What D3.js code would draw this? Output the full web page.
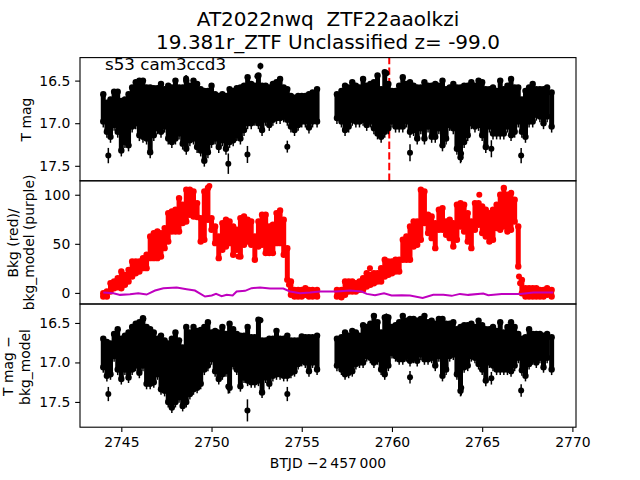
<!DOCTYPE html>
<html>
<head>
<meta charset="utf-8">
<script src="https://cdn.jsdelivr.net/npm/d3@7"></script>
<style>
  html, body { margin: 0; padding: 0; background: #fff; }
  svg { display: block; }
  text { font-family: "DejaVu Sans", sans-serif; fill: #000; }
</style>
</head>
<body>
<script>
// the light curve is far too dense to read point by point, so each time bin
// keeps the brightest and faintest value
var timeBins = [
  2744.0,2744.2,2744.4,2744.6,2744.8,2745.0,2745.2,2745.4,2745.6,2745.8,
  2746.0,2746.2,2746.4,2746.6,2746.8,2747.0,2747.2,2747.4,2747.6,2747.8,
  2748.0,2748.2,2748.4,2748.6,2748.8,2749.0,2749.2,2749.4,2749.6,2749.8,
  2750.0,2750.2,2750.4,2750.6,2750.8,2751.0,2751.2,2751.4,2751.6,2751.8,
  2752.0,2752.2,2752.4,2752.6,2752.8,2753.0,2753.2,2753.4,2753.6,2753.8,
  2754.0,2754.2,2754.4,2754.6,2754.8,2755.0,2755.2,2755.4,2755.6,2755.85,
  2756.95,2757.2,2757.4,2757.6,2757.8,2758.0,2758.2,2758.4,2758.6,2758.8,
  2759.0,2759.2,2759.4,2759.6,2759.8,2760.0,2760.2,2760.4,2760.6,2760.8,
  2761.0,2761.2,2761.4,2761.6,2761.8,2762.0,2762.2,2762.4,2762.6,2762.8,
  2763.0,2763.2,2763.4,2763.6,2763.8,2764.0,2764.2,2764.4,2764.6,2764.8,
  2765.0,2765.2,2765.4,2765.6,2765.8,2766.0,2766.2,2766.4,2766.6,2766.8,
  2767.0,2767.2,2767.4,2767.6,2767.8,2768.0,2768.2,2768.4,2768.6,2768.85
];

var tmagBright = [
  16.66,16.76,16.72,16.63,16.63,16.74,16.72,16.66,16.58,16.52,
  16.50,16.50,16.58,16.58,16.59,16.59,16.54,16.60,16.56,16.58,
  16.50,16.58,16.58,16.50,16.56,16.50,16.54,16.60,16.62,16.62,
  16.56,16.66,16.68,16.66,16.68,16.60,16.62,16.59,16.58,16.56,
  16.46,16.54,16.56,16.44,16.56,16.56,16.58,16.54,16.52,16.48,
  16.58,16.60,16.68,16.70,16.68,16.68,16.68,16.66,16.64,16.60,
  16.66,16.62,16.56,16.58,16.52,16.56,16.58,16.48,16.56,16.54,
  16.52,16.44,16.60,16.40,16.54,16.62,16.62,16.56,16.46,16.54,
  16.52,16.56,16.58,16.58,16.52,16.56,16.56,16.54,16.56,16.50,
  16.60,16.58,16.54,16.58,16.58,16.56,16.56,16.52,16.56,16.50,
  16.52,16.60,16.60,16.58,16.62,16.50,16.60,16.56,16.48,16.58,
  16.58,16.72,16.62,16.58,16.54,16.60,16.60,16.60,16.58,16.64
];
var tmagFaint = [
  16.98,17.10,17.16,17.02,17.10,17.32,17.22,17.26,17.04,17.00,
  17.14,17.16,17.18,17.34,17.14,17.06,17.10,17.04,17.18,17.22,
  17.18,17.12,17.24,17.30,17.20,17.18,17.28,17.32,17.44,17.34,
  17.22,17.18,17.28,17.20,17.30,17.22,17.20,17.14,17.18,17.08,
  17.00,17.00,16.96,17.00,17.08,16.96,17.02,16.96,16.94,16.94,
  16.92,16.96,17.04,17.08,17.02,16.98,16.98,17.05,16.98,16.98,
  16.94,16.98,17.08,17.04,16.96,16.98,16.98,16.96,17.02,16.98,
  17.06,17.12,17.16,17.10,17.06,16.98,17.04,17.04,17.04,16.98,
  17.10,17.08,17.18,17.06,17.18,17.04,17.16,17.16,17.06,17.26,
  17.18,17.02,17.06,17.30,17.40,17.22,17.14,17.00,17.04,17.02,
  17.14,17.28,17.04,17.12,17.12,17.12,17.12,17.04,17.14,17.10,
  16.98,17.10,17.16,16.98,16.98,16.90,16.92,17.00,16.92,17.04
];

var bkgHigh = [
  -0.3,1.4,9.9,11.6,15,21.8,18.4,23.5,32,32,
  32,35.4,38.8,57.5,60.9,62.6,60.9,66,81.3,83,
  84.7,96.6,89.8,105.1,105.1,103.4,91.5,76.2,103.4,106.8,
  76.2,67.7,57.5,71.1,74.5,72.8,67.7,64.3,76.2,77.9,
  74.5,72.8,57.5,72.8,79.6,79.6,67.7,69.4,81.3,84,
  74.5,45.6,11.6,3.1,3.1,3.1,4.8,3.1,3.1,3.1,
  3.1,3.1,11.6,11.6,11.6,9.9,11.6,15,20.1,18.4,
  20.1,20.1,25.2,33.7,32,32,33.7,33.7,54.1,57.5,
  67.7,72.8,72.8,105.1,103.4,79.6,77.9,71.1,84.7,86.4,
  72.8,74.5,71.1,89.8,91.5,89.8,81.3,72.8,91.5,91.5,
  88.1,84.7,81.3,84.7,89.8,100,106.8,100,101.7,94.9,
  67.7,13.3,4.8,4.8,4.8,4.8,3.1,3.1,4.8,3.1
];
var bkgLow = [
  -3.7,-3.7,1.4,4.8,5.8,4.8,8.2,11.6,16.7,20.1,
  21.8,25.2,25.2,35.4,35.4,35.4,37.1,45.6,52.4,62.6,
  62.6,62.6,71.1,72.8,79.6,77.9,77.2,52.4,54.1,74.5,
  64.3,50.7,35.4,43.9,47.3,50.7,38.8,43.9,37.1,49,
  52.4,49,33.7,47.3,49,40.5,40.5,40.5,50.7,50.7,
  38.8,13.3,-2,-3.7,-3.7,-3.7,-2,-3.7,-3.7,-3.7,
  -3.7,-4.4,-2,1.4,1.4,1.4,3.1,3.1,6.5,8.2,
  9.9,11.6,11.6,16.7,18.4,20.1,21.8,21.8,33.7,33.7,
  33.7,47.3,49,54.1,71.1,60.9,55.8,45.6,64.3,64.3,
  59.2,55.8,47.3,54.1,67.7,62.6,52.4,45.6,64.3,69.4,
  60.9,57.5,52.4,54.1,66,64.3,67.7,62.6,64.3,72.8,
  26.9,-0.3,-3.7,-3.7,-3.7,-3.7,-3.7,-3.7,-2,-3.7
];

var diffBright = [
  16.70,16.74,16.76,16.64,16.58,16.70,16.66,16.62,16.55,16.51,
  16.49,16.44,16.55,16.58,16.62,16.70,16.66,16.72,16.76,16.70,
  16.62,16.72,16.81,16.55,16.62,16.55,16.60,16.59,16.55,16.49,
  16.62,16.60,16.62,16.55,16.64,16.51,16.58,16.64,16.66,16.66,
  16.55,16.68,16.68,16.46,16.72,16.72,16.70,16.70,16.60,16.70,
  16.70,16.66,16.72,16.72,16.72,16.67,16.68,16.68,16.68,16.66,
  16.70,16.68,16.62,16.66,16.60,16.62,16.66,16.53,16.55,16.51,
  16.41,16.49,16.62,16.43,16.43,16.55,16.53,16.49,16.41,16.47,
  16.45,16.45,16.47,16.45,16.41,16.49,16.47,16.51,16.45,16.45,
  16.51,16.51,16.49,16.58,16.55,16.53,16.53,16.51,16.55,16.47,
  16.53,16.58,16.58,16.55,16.60,16.49,16.62,16.55,16.49,16.55,
  16.64,16.70,16.68,16.58,16.64,16.64,16.64,16.66,16.64,16.68
];
var diffFaint = [
  17.06,17.17,17.15,16.92,17.09,17.21,17.09,17.19,17.09,17.04,
  17.13,17.04,17.27,17.27,17.25,17.15,17.34,17.36,17.50,17.57,
  17.50,17.44,17.55,17.50,17.40,17.34,17.32,17.27,17.09,17.04,
  16.96,17.11,17.21,17.15,17.11,17.32,17.02,17.09,17.30,17.19,
  17.23,17.25,17.25,17.23,17.38,17.19,17.27,17.17,17.15,17.15,
  17.17,17.17,17.13,17.11,17.02,16.98,17.00,17.11,17.00,17.09,
  17.04,17.09,17.15,17.13,17.11,17.02,17.00,17.00,16.92,16.94,
  17.00,16.96,17.09,17.15,17.04,16.88,16.92,16.96,16.96,16.92,
  16.98,16.94,16.98,16.90,16.96,16.96,16.94,17.04,16.92,17.17,
  17.09,16.92,16.90,17.15,17.36,17.06,17.04,16.92,16.94,17.02,
  17.09,17.23,17.00,17.04,17.09,17.09,17.09,17.09,17.11,17.04,
  16.94,17.10,17.17,17.02,16.96,17.00,16.94,17.06,16.94,17.09
];

// points that stand clear of the band: time, value, error
var tmagOutT = [2744.28,2748.59,2750.93,2751.99,2752.54,2752.71,2754.2,2759.69,2761.0,2763.83,2765.51,2767.16];
var tmagOutV = [17.38,16.475,17.475,17.367,16.45,16.33,17.275,16.415,17.347,17.355,17.30,17.38];
var tmagOutE = [0.09,0.04,0.12,0.10,0.04,0.04,0.07,0.04,0.10,0.10,0.10,0.09];

var diffOutT = [2744.28,2746.22,2750.93,2751.99,2752.71,2754.2,2759.69,2761.0,2763.84,2765.51,2767.16];
var diffOutV = [17.40,16.45,17.305,17.607,16.466,17.40,16.42,17.187,17.32,17.20,17.355];
var diffOutE = [0.09,0.04,0.09,0.14,0.04,0.09,0.04,0.08,0.10,0.08,0.08];

// includes the points on the two steep drops
var bkgOutT = [2749.88,2751.49,2754.29,2754.4,2758.78,2764.84,2766.41,2767.04,2767.1];
var bkgOutV = [109,37,8.2,3.8,25.2,100,63.6,16.7,9.9];

// bkg_model line
var modelT = [2744.0,2744.56,2744.93,2745.48,2745.94,2746.4,2746.87,2747.33,2748.07,2748.62,2749.08,2749.64,2750.01,2750.25,2750.56,2750.84,2751.17,2751.39,2751.86,2752.22,2752.69,2753.24,2753.98,2754.35,2754.9,2755.46,2756.01,2756.93,2757.67,2758.32,2758.6,2759.06,2759.56,2759.98,2760.54,2761.0,2761.7,2762.29,2762.85,2763.31,2763.77,2764.23,2765.06,2765.34,2766.08,2767.1,2767.84,2768.94];
var modelV = [0.4,-0.3,-2,-1.3,-0.3,-1.7,2.4,4.8,5.5,3.8,2.4,-3.7,-2.7,-1,-3.4,-2,-2.7,1.4,2.1,4.8,5.5,4.5,4.5,1.4,-0.3,0.4,1.4,1.4,2.4,1.4,-1,-2.3,-0.3,-2.7,-2.3,-2.7,-5.1,-2,-2,-3,-1,-2,-0.6,-2.3,-1,-1,0.4,0.4];

var discoveryTime = 2759.85;

var titleLines = ["AT2022nwq  ZTF22aaolkzi", "19.381r_ZTF Unclassified z= -99.0"];
var sectorLabel = "s53 cam3ccd3";
var magTicks = [16.5, 17, 17.5];
var bkgTicks = [0, 50, 100];
var timeTicks = [2745, 2750, 2755, 2760, 2765, 2770];

var margin = {top: 57.6, right: 64, bottom: 52.8, left: 80},
    width = 640 - margin.left - margin.right,
    height = 480 - margin.top - margin.bottom,
    panelH = height / 3,
    tickLen = 4.86,
    fontSize = "13.9px";

var svg = d3.select("body")
            .append("svg")
            .attr("width", 640)
            .attr("height", 480);

var xScale = d3.scaleLinear().domain([2742.71, 2770.2]).range([0, width]);

function addPanel(index, domain, ticks, format) {
  var g = svg.append("g")
             .attr("transform", "translate(" + margin.left + "," + (margin.top + index * panelH) + ")");
  var yScale = d3.scaleLinear().domain(domain).range([panelH, 0]);
  g.append("g").attr("class", "marks");
  var yAxis = g.append("g")
               .call(d3.axisLeft(yScale).tickValues(ticks).tickFormat(format).tickSize(tickLen).tickPadding(tickLen));
  yAxis.select(".domain").remove();
  yAxis.selectAll("line").attr("stroke-width", 1.1);
  yAxis.selectAll("text").style("font-size", fontSize);
  g.append("rect")
   .attr("width", width)
   .attr("height", panelH)
   .attr("fill", "none")
   .attr("stroke", "#000")
   .attr("stroke-width", 1.1);
  return {g: g, marks: g.select(".marks"), y: yScale};
}

var topPanel = addPanel(0, [17.676, 16.23], magTicks, d3.format(".1f"));
var midPanel = addPanel(1, [-11.3, 114.2], bkgTicks, d3.format("d"));
var botPanel = addPanel(2, [17.82, 16.26], magTicks, d3.format(".1f"));

// dashed red line sits under the points, drawn from the bottom up
topPanel.marks.append("line")
        .attr("x1", xScale(discoveryTime))
        .attr("x2", xScale(discoveryTime))
        .attr("y1", panelH)
        .attr("y2", 0)
        .attr("stroke", "#ff0000")
        .attr("stroke-width", 2)
        .attr("stroke-dasharray", "7.4,3.2");

// one time bin = a filled range plus the two extreme points,
// the faint one keeps its error bar
function drawBand(panel, bright, faint, color, errFaint) {
  timeBins.forEach(function(t, i) {
    var x = xScale(t);
    panel.marks.append("line")
         .attr("x1", x).attr("x2", x)
         .attr("y1", panel.y(bright[i]))
         .attr("y2", panel.y(faint[i]))
         .attr("stroke", color)
         .attr("stroke-width", 5);
    if (errFaint > 0) {
      panel.marks.append("line")
           .attr("x1", x).attr("x2", x)
           .attr("y1", panel.y(faint[i]))
           .attr("y2", panel.y(faint[i] + errFaint))
           .attr("stroke", color)
           .attr("stroke-width", 1.5);
    }
    [bright[i], faint[i]].forEach(function(v) {
      panel.marks.append("circle")
           .attr("cx", x)
           .attr("cy", panel.y(v))
           .attr("r", 3.2)
           .attr("fill", color);
    });
  });
}

function drawOutliers(panel, ts, vs, es, color) {
  ts.forEach(function(t, i) {
    if (es) {
      panel.marks.append("line")
           .attr("x1", xScale(t)).attr("x2", xScale(t))
           .attr("y1", panel.y(vs[i] - es[i]))
           .attr("y2", panel.y(vs[i] + es[i]))
           .attr("stroke", color)
           .attr("stroke-width", 1.5);
    }
    panel.marks.append("circle")
         .attr("cx", xScale(t))
         .attr("cy", panel.y(vs[i]))
         .attr("r", 3)
         .attr("fill", color);
  });
}

drawBand(topPanel, tmagBright, tmagFaint, "#000", 0.07);
drawOutliers(topPanel, tmagOutT, tmagOutV, tmagOutE, "#000");

drawBand(midPanel, bkgHigh, bkgLow, "#ff0000", 0);
drawOutliers(midPanel, bkgOutT, bkgOutV, null, "#ff0000");

var modelLine = d3.line()
                  .x(function(d) {return xScale(d);})
                  .y(function(d, i) {return midPanel.y(modelV[i]);});

midPanel.marks.append("path")
        .datum(modelT)
        .attr("d", modelLine)
        .attr("fill", "none")
        .attr("stroke", "#bf00bf")
        .attr("stroke-width", 2);

drawBand(botPanel, diffBright, diffFaint, "#000", 0.07);
drawOutliers(botPanel, diffOutT, diffOutV, diffOutE, "#000");

// only the bottom panel carries the time axis
var xAxis = botPanel.g.append("g")
                      .attr("transform", "translate(0," + panelH + ")")
                      .call(d3.axisBottom(xScale).tickValues(timeTicks).tickFormat(d3.format("d")).tickSize(tickLen).tickPadding(tickLen));
xAxis.select(".domain").remove();
xAxis.selectAll("line").attr("stroke-width", 1.1);
xAxis.selectAll("text").style("font-size", fontSize);

// titles and labels
svg.selectAll(".title")
   .data(titleLines)
   .enter()
   .append("text")
   .attr("class", "title")
   .attr("x", margin.left + width / 2)
   .attr("y", function(d, i) {return 26 + i * 23.3;})
   .style("text-anchor", "middle")
   .style("font-size", "20px")
   .style("white-space", "pre")
   .text(function(d) {return d;});

svg.append("text")
   .attr("x", 105)
   .attr("y", 70)
   .style("font-size", "16.7px")
   .text(sectorLabel);

function yLabel(x, yMid, label) {
  svg.append("text")
     .attr("transform", "translate(" + x + "," + yMid + ") rotate(-90)")
     .style("text-anchor", "middle")
     .style("font-size", fontSize)
     .text(label);
}

yLabel(30.5, 119.5, "T mag");
yLabel(18.3, 243, "Bkg (red)/");
yLabel(34.3, 242.5, "bkg_model (purple)");
yLabel(13, 366, "T mag \u2212");
yLabel(29.5, 367, "bkg_model");

svg.append("text")
   .attr("x", margin.left + width / 2)
   .attr("y", 467.7)
   .style("text-anchor", "middle")
   .style("font-size", fontSize)
   .text("BTJD \u22122\u2009457\u2009000");
</script>
</body>
</html>
